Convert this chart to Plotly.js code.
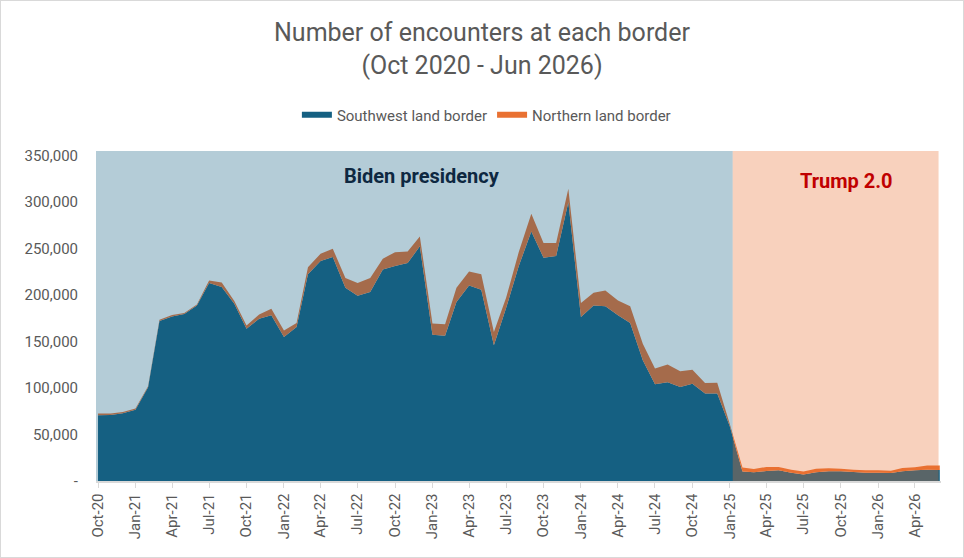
<!DOCTYPE html>
<html>
<head>
<meta charset="utf-8">
<script src="https://cdn.plot.ly/plotly-3.0.1.min.js"></script>
<style>
  body { margin: 0; background: #fff; }
  #wrap { width: 962px; height: 556px; border: 1px solid #d9d9d9; }
</style>
</head>
<body>
<div id="wrap"><div id="chart"></div></div>
<script>
// Monthly encounters, Oct 2020 .. Jun 2026
const firstMonth = [2020, 10];
const southwest = [
    70800, 70900, 72800, 76700, 100800, 172000, 177000, 179600, 188900, 212900, 208600, 190700,
    163900, 174600, 178200, 154900, 165600, 222300, 236600, 240900, 208000, 199300, 203200, 227600,
    231200, 234400, 252400, 157400, 156300, 192500, 210400, 205800, 145900, 186000, 231000, 268500,
    240200, 242000, 300000, 176400, 188900, 187900, 178200, 169900, 129800, 104000, 106100, 101100,
    104700, 94000, 94000, 58500, 10100, 9400, 10800, 11500, 9000, 6900, 9400, 10400,
    10400, 9700, 9000, 9000, 8600, 10400, 11500, 12200, 11900
];
const northern = [
    1700, 1600, 1500, 1200, 1100, 1500, 1500, 1200, 1000, 2900, 5000, 2900,
    3500, 4600, 7200, 7100, 4300, 7700, 7900, 9000, 10300, 13600, 15100, 11500,
    15000, 12600, 10700, 11900, 12200, 15500, 15100, 16500, 14300, 11000, 15000, 19000,
    15700, 13900, 14400, 15000, 13700, 17100, 16100, 18000, 17900, 16900, 19100, 16900,
    15100, 11400, 11800, 2500, 4300, 3500, 4300, 3600, 3200, 3200, 3900, 3300,
    2900, 2500, 2500, 2500, 2500, 3600, 3200, 4400, 4700
];
const yTicks = [0, 50000, 100000, 150000, 200000, 250000, 300000, 350000];
const periods = ['Biden presidency', 'Trump 2.0'];
const handover = '2025-01-08';

// x values: first day of each month
const months = southwest.map((_, i) => {
    const m = firstMonth[1] - 1 + i;
    const y = firstMonth[0] + Math.floor(m / 12);
    const mm = (m % 12) + 1;
    return y + '-' + String(mm).padStart(2, '0') + '-01';
});

const grey = '#595959';
const font = 'Roboto, "Open Sans", sans-serif';

const traceSW = {
    x: months,
    y: southwest,
    name: 'Southwest land border',
    type: 'scatter',
    mode: 'none',
    stackgroup: 'one',
    fillcolor: '#156082'
};

const traceN = {
    x: months,
    y: northern,
    name: 'Northern land border',
    type: 'scatter',
    mode: 'none',
    stackgroup: 'one',
    fillcolor: '#E97132'
};

const layout = {
    width: 962,
    height: 556,
    autosize: false,
    margin: { l: 95, r: 22, t: 150, b: 76, autoexpand: false },
    paper_bgcolor: '#fff',
    plot_bgcolor: '#fff',
    font: { family: font, color: grey, size: 14 },
    title: {
        text: 'Number of encounters at each border<br>(Oct 2020 - Jun 2026)',
        font: { size: 25, color: grey, family: font },
        x: 0.5,
        xref: 'container',
        y: 1 - 40 / 556,
        yref: 'container',
        yanchor: 'top'
    },
    showlegend: true,
    legend: {
        orientation: 'h',
        traceorder: 'normal',
        x: 0.462,
        xanchor: 'center',
        y: 1.109,
        yanchor: 'middle',
        font: { size: 15, color: grey }
    },
    xaxis: {
        type: 'date',
        range: ['2020-09-26', '2026-06-04'],
        tick0: '2020-10-01',
        dtick: 'M3',
        tickformat: '%b-%y',
        tickangle: -90,
        ticks: 'outside',
        ticklen: 5,
        tickcolor: '#d9d9d9',
        showline: true,
        linecolor: '#d9d9d9',
        linewidth: 1.5,
        showgrid: false,
        zeroline: false,
        tickfont: { size: 15, color: grey }
    },
    yaxis: {
        range: [0, 355000],
        tickvals: yTicks,
        ticktext: yTicks.map(v => v === 0 ? '-' : v.toLocaleString('en-US')),
        ticks: 'outside',
        ticklen: 14,
        tickcolor: 'rgba(0,0,0,0)',
        showgrid: false,
        zeroline: false,
        showline: false,
        tickfont: { size: 15, color: grey }
    },
    shapes: [
        {
            type: 'rect', layer: 'above', line: { width: 0 },
            xref: 'paper', x0: 0, x1: 0, yref: 'paper', y0: 0, y1: 1,
            fillcolor: 'rgba(21,96,130,0.32)'
        },
        {
            type: 'rect', layer: 'above', line: { width: 0 },
            xref: 'x', x0: handover, x1: '2026-05-29', yref: 'paper', y0: 0, y1: 1,
            fillcolor: 'rgba(233,113,50,0.32)'
        }
    ],
    annotations: [
        {
            text: '<b>' + periods[0] + '</b>',
            x: '2022-12-06', y: 328000, xref: 'x', yref: 'y',
            showarrow: false,
            font: { size: 20, color: '#0E2841', family: font }
        },
        {
            text: '<b>' + periods[1] + '</b>',
            x: '2025-10-15', y: 323000, xref: 'x', yref: 'y',
            showarrow: false,
            font: { size: 20, color: '#C00000', family: font }
        }
    ]
};

// Biden shading runs from the left edge of the plot to the handover date
const xr = layout.xaxis.range.map(d => new Date(d).getTime());
layout.shapes[0].x1 = (new Date(handover).getTime() - xr[0]) / (xr[1] - xr[0]);

Plotly.newPlot('chart', [traceSW, traceN], layout, { displayModeBar: false, staticPlot: true });
</script>
</body>
</html>
